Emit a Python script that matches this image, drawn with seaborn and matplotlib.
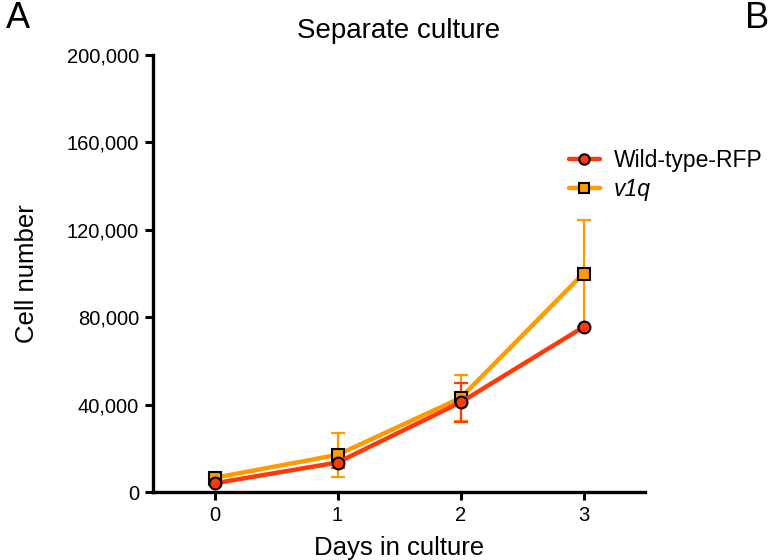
import matplotlib
matplotlib.use("Agg")
import matplotlib.pyplot as plt
import seaborn as sns
import pandas as pd
from matplotlib.lines import Line2D
from matplotlib.ticker import FuncFormatter

days = [0, 1, 2, 3]
wt_mean = [4000, 13500, 41000, 75500]
wt_err = [800, 2500, 9000, 0]
v1q_mean = [6500, 17000, 43000, 100000]
v1q_err = [1000, 10000, 10500, 24500]
series_names = ["Wild-type-RFP", "v1q"]
y_ticks = [0, 40000, 80000, 120000, 160000, 200000]

RED = "#FF3A0A"
ORANGE = "#FF9A00"

sns.set_theme(style="ticks")
plt.rcParams["font.family"] = ["Liberation Sans", "DejaVu Sans"]
plt.rcParams["text.color"] = "black"
plt.rcParams["axes.labelcolor"] = "black"

fig = plt.figure(figsize=(7.69, 5.6), dpi=100)
ax = fig.add_axes([153/769, 68/560, (645-153)/769, (492-55)/560])

df = pd.DataFrame({
    "day": days * 2,
    "cells": v1q_mean + wt_mean,
    "group": ["v1q"] * 4 + ["Wild-type-RFP"] * 4,
})

# error bars
ax.errorbar(days, v1q_mean, yerr=v1q_err, fmt="none", ecolor=ORANGE,
            elinewidth=1.6, capsize=5, capthick=1.6, zorder=1)
ax.errorbar(days, wt_mean, yerr=wt_err, fmt="none", ecolor=RED,
            elinewidth=1.6, capsize=5, capthick=1.6, zorder=1)

sns.lineplot(data=df[df.group == "v1q"], x="day", y="cells", ax=ax,
             color=ORANGE, lw=3.2, marker="s", markersize=8,
             markerfacecolor=ORANGE, markeredgecolor="black",
             markeredgewidth=1.5, errorbar=None, legend=False, zorder=3)
sns.lineplot(data=df[df.group == "Wild-type-RFP"], x="day", y="cells", ax=ax,
             color=RED, lw=3.2, marker="o", markersize=8.5,
             markerfacecolor=RED, markeredgecolor="black",
             markeredgewidth=1.5, errorbar=None, legend=False, zorder=4)

ax.set_xlim(-0.5, 3.5)
ax.set_ylim(0, 200000)
ax.set_xticks(days)
ax.set_yticks(y_ticks)
ax.yaxis.set_major_formatter(FuncFormatter(lambda v, p: f"{int(v):,}"))
ax.tick_params(axis="both", labelsize=14.5, width=2.2, length=6, color="black",
               labelcolor="black", pad=4)
for s in ["left", "bottom"]:
    ax.spines[s].set_linewidth(2.4)
    ax.spines[s].set_color("black")
sns.despine(ax=ax)

ax.set_xlabel("Days in culture", fontsize=18.5, labelpad=8, color="black")
ax.set_ylabel("Cell number", fontsize=18.5, labelpad=20, color="black")
ax.set_title("Separate culture", fontsize=20, pad=12, color="black")

handles = [
    Line2D([], [], color=RED, lw=3.2, marker="o", markersize=7.5,
           markerfacecolor=RED, markeredgecolor="black", markeredgewidth=1.5),
    Line2D([], [], color=ORANGE, lw=3.2, marker="s", markersize=7,
           markerfacecolor=ORANGE, markeredgecolor="black", markeredgewidth=1.5),
]
leg = fig.legend(handles, ["Wild-type-RFP", "v1q"], loc="center left",
                 bbox_to_anchor=(569/769, 1 - 175/560), frameon=False,
                 fontsize=16.5, handlelength=1.35, handletextpad=0.6,
                 labelspacing=0.25, borderaxespad=0, borderpad=0)
for t in leg.get_texts():
    t.set_color("black")
leg.get_texts()[1].set_style("italic")

fig.text(6/769, 1 - 1/560, "A", fontsize=26, va="top", ha="left", color="black")
fig.text(745/769, 1 - 1/560, "B", fontsize=26, va="top", ha="left", color="black")

fig.savefig("out.png", dpi=100)
